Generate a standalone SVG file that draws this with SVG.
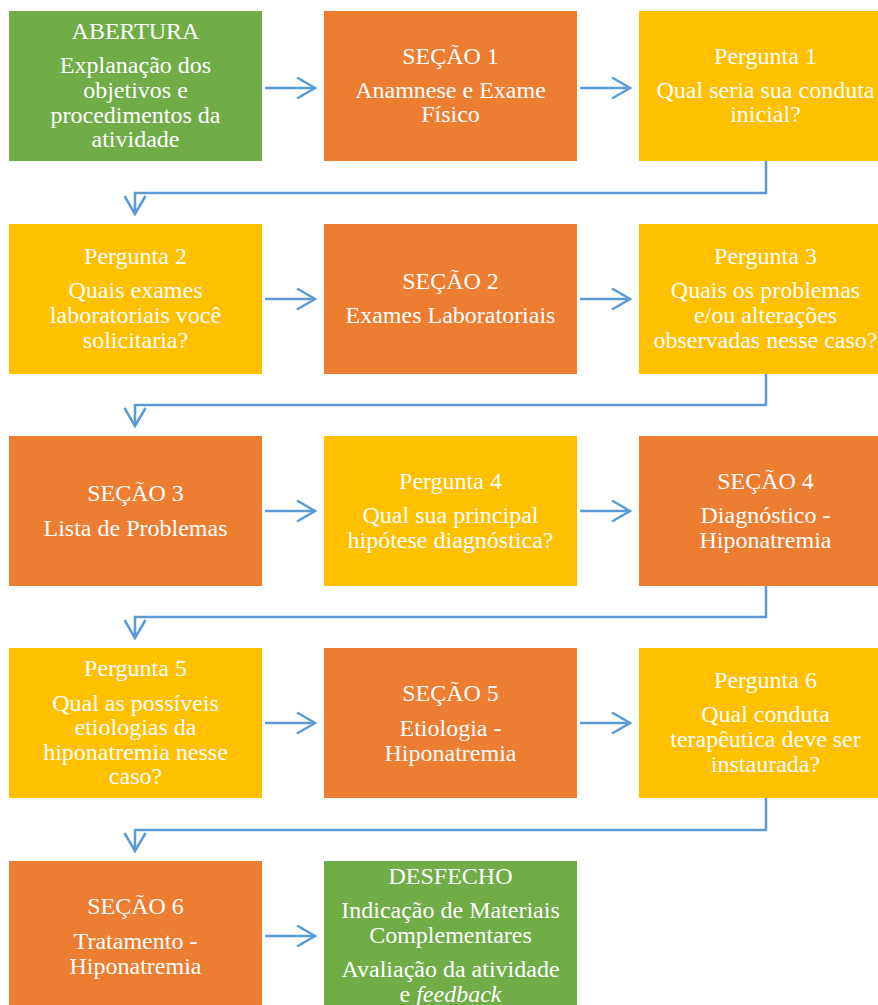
<svg xmlns="http://www.w3.org/2000/svg" width="878" height="1005" viewBox="0 0 878 1005">
<style>
.g{fill:#70AD47}.o{fill:#ED7D31}.y{fill:#FFC000}
text{font-family:"Liberation Serif","Times New Roman",serif;font-size:24px;fill:#fff;text-anchor:middle}
.c{fill:none;stroke:#5B9BD5;stroke-width:2.5;marker-end:url(#ah)}
</style>
<defs>
<marker id="ah" markerUnits="userSpaceOnUse" markerWidth="24" markerHeight="26" refX="20" refY="13" orient="auto" viewBox="0 0 24 26">
<path d="M2,2.5 L20,13 L2,23.5" fill="none" stroke="#5B9BD5" stroke-width="2.5"/>
</marker>
</defs>
<g id="connectors">
<path class="c" d="M265,88 H315"/>
<path class="c" d="M580,88 H630"/>
<path class="c" d="M766,161 V193 H135 V214"/>
<path class="c" d="M265,299 H315"/>
<path class="c" d="M580,299 H630"/>
<path class="c" d="M766,374 V405 H135 V426"/>
<path class="c" d="M265,511 H315"/>
<path class="c" d="M580,511 H630"/>
<path class="c" d="M766,586 V617 H135 V638"/>
<path class="c" d="M265,723 H315"/>
<path class="c" d="M580,723 H630"/>
<path class="c" d="M766,798 V830 H135 V851"/>
<path class="c" d="M265,936 H315"/>
</g>
<g id="abertura"><rect class="g" x="9" y="11" width="253" height="150"/>
<text x="135.5" y="39">ABERTURA</text>
<text x="135.5" y="73">Explanação dos</text>
<text x="135.5" y="98">objetivos e</text>
<text x="135.5" y="123">procedimentos da</text>
<text x="135.5" y="147">atividade</text></g>
<g id="secao1"><rect class="o" x="324" y="11" width="253" height="150"/>
<text x="450.5" y="64">SEÇÃO 1</text>
<text x="450.5" y="98">Anamnese e Exame</text>
<text x="450.5" y="122">Físico</text></g>
<g id="pergunta1"><rect class="y" x="639" y="11" width="253" height="150"/>
<text x="765.5" y="64">Pergunta 1</text>
<text x="765.5" y="98">Qual seria sua conduta</text>
<text x="765.5" y="122">inicial?</text></g>
<g id="pergunta2"><rect class="y" x="9" y="224" width="253" height="150"/>
<text x="135.5" y="264">Pergunta 2</text>
<text x="135.5" y="298">Quais exames</text>
<text x="135.5" y="323">laboratoriais você</text>
<text x="135.5" y="348">solicitaria?</text></g>
<g id="secao2"><rect class="o" x="324" y="224" width="253" height="150"/>
<text x="450.5" y="289">SEÇÃO 2</text>
<text x="450.5" y="323">Exames Laboratoriais</text></g>
<g id="pergunta3"><rect class="y" x="639" y="224" width="253" height="150"/>
<text x="765.5" y="264">Pergunta 3</text>
<text x="765.5" y="298">Quais os problemas</text>
<text x="765.5" y="323">e/ou alterações</text>
<text x="765.5" y="348">observadas nesse caso?</text></g>
<g id="secao3"><rect class="o" x="9" y="436" width="253" height="150"/>
<text x="135.5" y="501">SEÇÃO 3</text>
<text x="135.5" y="536">Lista de Problemas</text></g>
<g id="pergunta4"><rect class="y" x="324" y="436" width="253" height="150"/>
<text x="450.5" y="489">Pergunta 4</text>
<text x="450.5" y="523">Qual sua principal</text>
<text x="450.5" y="548">hipótese diagnóstica?</text></g>
<g id="secao4"><rect class="o" x="639" y="436" width="253" height="150"/>
<text x="765.5" y="489">SEÇÃO 4</text>
<text x="765.5" y="523">Diagnóstico -</text>
<text x="765.5" y="548">Hiponatremia</text></g>
<g id="pergunta5"><rect class="y" x="9" y="648" width="253" height="150"/>
<text x="135.5" y="676">Pergunta 5</text>
<text x="135.5" y="711">Qual as possíveis</text>
<text x="135.5" y="735">etiologias da</text>
<text x="135.5" y="760">hiponatremia nesse</text>
<text x="135.5" y="784">caso?</text></g>
<g id="secao5"><rect class="o" x="324" y="648" width="253" height="150"/>
<text x="450.5" y="701">SEÇÃO 5</text>
<text x="450.5" y="736">Etiologia -</text>
<text x="450.5" y="761">Hiponatremia</text></g>
<g id="pergunta6"><rect class="y" x="639" y="648" width="253" height="150"/>
<text x="765.5" y="688">Pergunta 6</text>
<text x="765.5" y="722">Qual conduta</text>
<text x="765.5" y="747">terapêutica deve ser</text>
<text x="765.5" y="772">instaurada?</text></g>
<g id="secao6"><rect class="o" x="9" y="861" width="253" height="150"/>
<text x="135.5" y="914">SEÇÃO 6</text>
<text x="135.5" y="949">Tratamento -</text>
<text x="135.5" y="974">Hiponatremia</text></g>
<g id="desfecho"><rect class="g" x="324" y="861" width="253" height="150"/>
<text x="450.5" y="884">DESFECHO</text>
<text x="450.5" y="918">Indicação de Materiais</text>
<text x="450.5" y="943">Complementares</text>
<text x="450.5" y="977">Avaliação da atividade</text>
<text x="450.5" y="1002">e <tspan font-style="italic">feedback</tspan></text></g>
</svg>
